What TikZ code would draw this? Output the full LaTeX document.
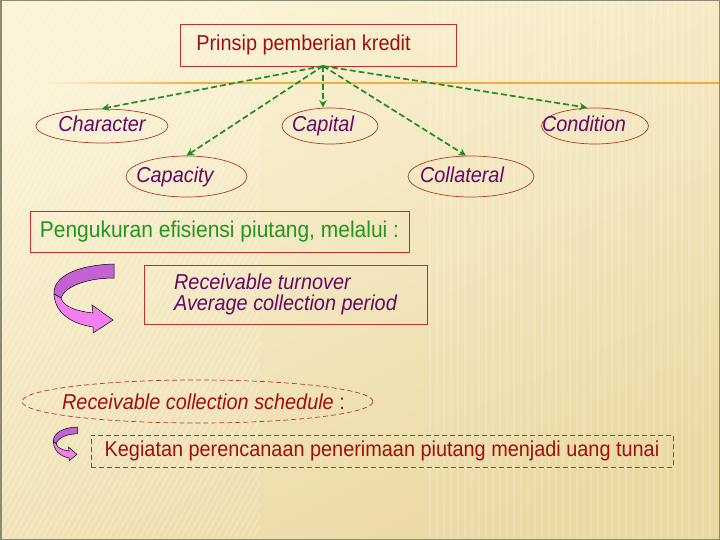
\documentclass[tikz,border=0pt]{standalone}
\usepackage{fontspec}
\setmainfont[FakeStretch=0.92]{Liberation Sans}
\usetikzlibrary{shapes.geometric,arrows.meta}
\definecolor{bgtop}{HTML}{FBF3D6}
\definecolor{bgbot}{HTML}{EBD9A4}
\definecolor{framecol}{HTML}{8C8A70}
\definecolor{orangeline}{HTML}{F0AE40}
\definecolor{boxred}{HTML}{C0302A}
\definecolor{ovalred}{HTML}{B03A22}
\definecolor{darkred}{HTML}{A00E0E}
\definecolor{ovalpurple}{HTML}{660866}
\definecolor{lgreen}{HTML}{1F8E1F}
\definecolor{tgreen}{HTML}{22961E}
\definecolor{darkpink}{HTML}{C462D4}
\definecolor{lightpink}{HTML}{F27EF2}
\tikzset{
  bigbox/.style={draw=boxred, line width=0.8pt, rectangle, inner sep=0pt},
  oval/.style={draw=ovalred, ellipse, line width=0.7pt, inner sep=0pt,
    font=\fontsize{21.6}{25}\selectfont\itshape, text=ovalpurple,
    text height=15.5pt, text depth=4.3pt},
  link/.style={draw=lgreen, line width=1.7pt, dash pattern=on 6pt off 3pt,
    -{Stealth[length=7.5pt,width=7.5pt]}},
  reddash/.style={dash pattern=on 5pt off 3pt},
  curvearrow/.pic={
    \filldraw[fill=darkpink, draw=black, line width=0.5pt]
      (61,0) .. controls (25,1) and (0,12) .. (1,30) -- (8,34)
      .. controls (12,22) and (35,14) .. (61,14) -- cycle;
    \filldraw[fill=lightpink, draw=black, line width=0.5pt]
      (1,30) .. controls (2,50) and (20,60) .. (40,63) -- (40,69) -- (60,56)
      -- (39,41) -- (40,49) .. controls (22,47) and (10,42) .. (8,34) -- cycle;
  }
}
\begin{document}
\begin{tikzpicture}[x=1pt,y=-1pt]
\useasboundingbox (0,0) rectangle (720,540);
% background
\shade[top color=bgtop, bottom color=bgbot, shading angle=25] (0,0) rectangle (720,540);
\begin{scope}
  \clip (0,0) rectangle (260,540);
  \foreach \i in {-300,-294,...,260}
    \draw[white, opacity=0.22, line width=1.6pt] (\i,540) -- (\i+300,0);
\end{scope}
\foreach \i in {430,437,...,715}
  \draw[white, opacity=0.16, line width=2pt] (\i,0) -- (\i,540);
\draw[framecol, line width=1.5pt] (0.75,0.75) rectangle (719.25,539.25);
% orange rule
\shade[left color=bgtop, right color=orangeline] (45,82.4) rectangle (200,83.6);
\draw[orangeline, line width=1.2pt] (200,83) -- (719,83);

% top box
\node[bigbox, minimum width=276pt, minimum height=42pt, text=darkred,
  font=\fontsize{21.6}{25}\selectfont, text height=15.5pt, text depth=4.3pt]
  (top) at (318,45) {\makebox[0pt]{Prinsip pemberian kredit\hspace{29pt}}};
\coordinate (src) at (323,66);

% ovals
\node[oval, minimum width=132pt, minimum height=34pt] (char) at (102,126) {\makebox[0pt]{Character}};
\node[oval, minimum width=96pt, minimum height=36pt] (capi) at (330,126) {\makebox[0pt]{Capital\hspace{14pt}}};
\node[oval, minimum width=107pt, minimum height=36pt] (cond) at (595,126) {\makebox[0pt]{Condition\hspace{22pt}}};
\node[oval, minimum width=121pt, minimum height=41pt] (capa) at (186.5,176.5) {\makebox[0pt]{Capacity\hspace{23pt}}};
\node[oval, minimum width=126pt, minimum height=41pt] (coll) at (471,176.5) {\makebox[0pt]{Collateral\hspace{18pt}}};

% connectors
\draw[link] (src) -- (char.north);
\draw[link] (src) -- (src |- capi.north);
\draw[link] (src) -- ([xshift=-8pt]cond.north);
\draw[link] (src) -- (capa.north);
\draw[link] (src) -- ([xshift=-5pt]coll.north);

% measurement
\node[bigbox, minimum width=379pt, minimum height=41pt, text=tgreen,
  font=\fontsize{22.8}{26}\selectfont] (peng) at (219.5,231.5)
  {\makebox[0pt]{Pengukuran efisiensi piutang, melalui :}};
\node[bigbox, minimum width=283pt, minimum height=59pt, text=ovalpurple,
  font=\fontsize{21.6}{21.5}\selectfont\itshape, align=left] (recv) at (285.5,294.5)
  {Receivable turnover\\Average collection period};
\pic at (53,264) {curvearrow};

% schedule
\node[ellipse, draw=ovalred, line width=0.7pt, reddash, inner sep=0pt,
  minimum width=351pt, minimum height=43pt, text=darkred,
  font=\fontsize{21.6}{25}\selectfont] (sched) at (197.5,401.5)
  {\makebox[0pt]{\hspace*{12pt}\textit{Receivable collection schedule} :}};
\node[bigbox, reddash, minimum width=582pt, minimum height=32pt, text=darkred,
  font=\fontsize{21.6}{25}\selectfont] (keg) at (382,451)
  {\makebox[0pt]{Kegiatan perencanaan penerimaan piutang menjadi uang tunai}};
\pic[xscale=0.40, yscale=0.49] at (53,427) {curvearrow};
\end{tikzpicture}
\end{document}
